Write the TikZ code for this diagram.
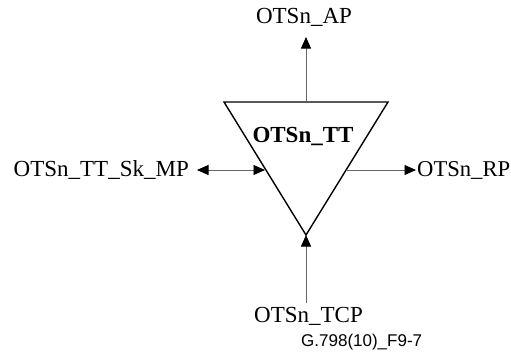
\documentclass[tikz,border=0pt]{standalone}
\usepackage{fontspec}
\setmainfont{Liberation Serif}
\newfontfamily\labelsans{Liberation Sans}
\usetikzlibrary{arrows.meta}
\begin{document}
\begin{tikzpicture}[x=1bp,y=1bp,
  lbl/.style={inner sep=0pt,font=\fontsize{23bp}{26bp}\selectfont},
  tri/.style={draw=black,line width=1.4bp,line join=miter},
  conn/.style={draw=black!60,line width=0.9bp},
  ahead/.style={Triangle[length=11.5bp,width=10bp,color=black]},
  tip/.style={-{Triangle[length=11.5bp,width=10bp,color=black]}},
  dtip/.style={{Triangle[length=11.5bp,width=10bp,color=black]}-{Triangle[length=11.5bp,width=10bp,color=black]}}]
\useasboundingbox (0,0) rectangle (511,351);
% triangle corners
\coordinate (tl) at (224,249);
\coordinate (tr) at (388,249);
\coordinate (ap) at (306,116);
\draw[tri] (tl) -- (tr) -- (ap) -- cycle;
% labels
\node[lbl,anchor=base] (apl) at (304,328) {OTSn\_AP};
\node[lbl,anchor=base,font=\fontsize{23bp}{26bp}\selectfont\bfseries] (ttl) at (303,209) {OTSn\_TT};
\node[lbl,anchor=base east] (mpl) at (189,175) {OTSn\_TT\_Sk\_MP};
\node[lbl,anchor=base west,font=\fontsize{22.6bp}{26bp}\selectfont] (rpl) at (417,175) {OTSn\_RP};
\node[lbl,anchor=base] (tcpl) at (308.5,28.5) {OTSn\_TCP};
\node[inner sep=0pt,anchor=base west,font=\labelsans\fontsize{17bp}{19bp}\selectfont] (fig) at (301,4.5) {G.798(10)\_F9-7};
% connector end points
\coordinate (apTop) at (306,249);
\coordinate (apEnd) at (306,314);
\coordinate (mpEnd) at (197,181);
\coordinate (mpTri) at (265,181);
\coordinate (rpTri) at (346,181);
\coordinate (rpEnd) at (416,181);
\coordinate (tcpEnd) at (306,48);
% connectors
\draw[conn,tip] (apTop) -- (apEnd);
\draw[conn,dtip] (mpEnd) -- (mpTri);
\draw[conn,tip] (rpTri) -- (rpEnd);
\draw[conn,tip] (tcpEnd) -- (ap);
\end{tikzpicture}
\end{document}
